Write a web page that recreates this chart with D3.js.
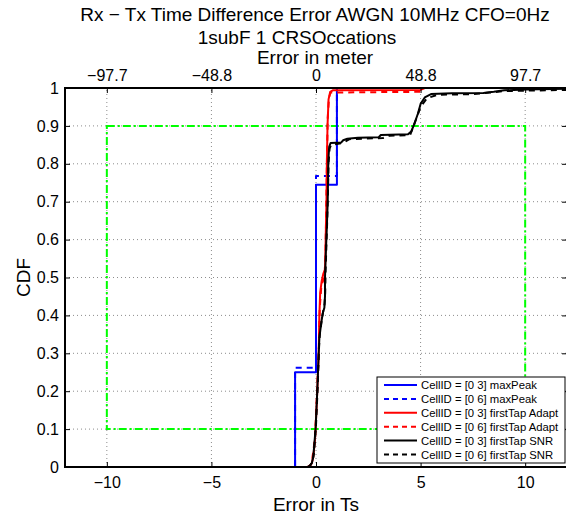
<!DOCTYPE html>
<html>
<head>
<meta charset="utf-8">
<script src="https://cdn.jsdelivr.net/npm/d3@7"></script>
<style>
  html, body { margin: 0; padding: 0; background: #fff; }
  svg { display: block; font-family: "Liberation Sans", Arial, Helvetica, sans-serif; }
</style>
</head>
<body>
<svg id="chart" width="566" height="514"></svg>
<script>
// ---- data -------------------------------------------------------------
const xTicks = [-10, -5, 0, 5, 10];
const xTickLabels = ["\u221210", "\u22125", "0", "5", "10"];
const topTickLabels = ["\u221297.7", "\u221248.8", "0", "48.8", "97.7"];
const yTicks = [0, 0.1, 0.2, 0.3, 0.4, 0.5, 0.6, 0.7, 0.8, 0.9, 1];
const yTickLabels = ["0", "0.1", "0.2", "0.3", "0.4", "0.5", "0.6", "0.7", "0.8", "0.9", "1"];

// step CDFs of the max-peak estimator
const maxPeak03X = [-12, -1, 0, 1, 12];
const maxPeak03Y = [0, 0.25, 0.745, 1, 1];
const maxPeak06X = [-12, -1, 0, 1, 12];
const maxPeak06Y = [0, 0.262, 0.768, 1, 1];

// first-tap adaptive threshold
const adapt03X = [-12, -0.4, -0.3, -0.2, -0.13, -0.05, -0.02, 0.06, 0.13, 0.16, 0.2, 0.27, 0.35, 0.43, 0.45, 0.47, 0.5, 0.52, 0.55, 0.6, 0.68, 0.8, 5.0, 5.2, 12];
const adapt03Y = [0, 0, 0.003, 0.01, 0.027, 0.07, 0.1, 0.2, 0.3, 0.4, 0.46, 0.49, 0.51, 0.52, 0.56, 0.62, 0.70, 0.8, 0.9, 0.97, 0.99, 0.994, 0.995, 1, 1];
const adapt06X = [-12, -0.38, -0.28, -0.2, -0.05, 0.06, 0.14, 0.18, 0.26, 0.4, 0.45, 0.48, 0.52, 0.56, 0.62, 0.7, 5.0, 5.1, 12];
const adapt06Y = [0, 0, 0.003, 0.012, 0.075, 0.21, 0.32, 0.42, 0.48, 0.5, 0.55, 0.65, 0.8, 0.92, 0.975, 0.988, 0.99, 1, 1];

// first-tap SNR threshold
const snr03X = [-12, -0.4, -0.3, -0.2, -0.13, -0.02, 0.06, 0.13, 0.16, 0.25, 0.32, 0.4, 0.43, 0.43, 0.48, 0.51, 0.56, 0.59, 0.63, 0.7, 1.2, 1.3, 1.5, 2.0, 3.0, 3.1, 4.4, 4.55, 4.7, 4.87, 5.0, 5.2, 5.5, 6.5, 8.0, 8.5, 9.0, 10, 12];
const snr03Y = [0, 0, 0.003, 0.01, 0.027, 0.1, 0.2, 0.3, 0.34, 0.38, 0.405, 0.42, 0.45, 0.5, 0.58, 0.62, 0.70, 0.81, 0.845, 0.855, 0.856, 0.862, 0.866, 0.869, 0.87, 0.876, 0.878, 0.885, 0.905, 0.932, 0.958, 0.975, 0.984, 0.986, 0.987, 0.99, 0.994, 0.996, 0.998];
const snr06X = [-12, -0.38, -0.28, -0.18, -0.1, 0.0, 0.08, 0.14, 0.18, 0.27, 0.34, 0.41, 0.44, 0.46, 0.5, 0.53, 0.57, 0.6, 0.65, 0.72, 1.3, 1.6, 3.2, 3.5, 4.5, 4.6, 4.8, 5.0, 5.3, 5.8, 7.5, 8.3, 9.0, 12];
const snr06Y = [0, 0, 0.004, 0.013, 0.035, 0.11, 0.21, 0.31, 0.35, 0.385, 0.41, 0.43, 0.46, 0.52, 0.59, 0.64, 0.72, 0.8, 0.84, 0.85, 0.855, 0.865, 0.868, 0.874, 0.876, 0.89, 0.92, 0.95, 0.973, 0.982, 0.984, 0.988, 0.992, 0.995];

// target box (dash-dot)
const boxX = [-10, 10];
const boxY = [0.1, 0.9];

const legendLabels = [
  "CellID = [0 3] maxPeak",
  "CellID = [0 6] maxPeak",
  "CellID = [0 3] firstTap Adapt",
  "CellID = [0 6] firstTap Adapt",
  "CellID = [0 3] firstTap SNR",
  "CellID = [0 6] firstTap SNR"
];

// ---- layout -----------------------------------------------------------
const svg = d3.select("#chart");
const L = 65, R = 567, T = 88, B = 467;
const x = d3.scaleLinear().domain([-12, 12]).range([L, R]);
const y = d3.scaleLinear().domain([0, 1]).range([B, T]);

// dotted grid
const grid = svg.append("g").attr("stroke", "#8c8c8c").attr("stroke-width", 1).attr("stroke-dasharray", "1,3");
xTicks.forEach(t => grid.append("line").attr("x1", x(t)).attr("x2", x(t)).attr("y1", B).attr("y2", T));
yTicks.filter(t => t > 0 && t < 1).forEach(t => grid.append("line").attr("x1", L).attr("x2", R).attr("y1", y(t)).attr("y2", y(t)));

// green dash-dot box
svg.append("rect")
  .attr("x", x(boxX[0])).attr("y", y(boxY[1]))
  .attr("width", x(boxX[1]) - x(boxX[0])).attr("height", y(boxY[0]) - y(boxY[1]))
  .attr("fill", "none").attr("stroke", "#00ff00").attr("stroke-width", 2)
  .attr("stroke-dasharray", "8,3,2,3");

// series
const series = [
  { xs: maxPeak03X, ys: maxPeak03Y, color: "#0000ff", dash: null, step: true },
  { xs: maxPeak06X, ys: maxPeak06Y, color: "#0000ff", dash: "6,5", step: true },
  { xs: adapt03X, ys: adapt03Y, color: "#ff0000", dash: null, step: false },
  { xs: adapt06X, ys: adapt06Y, color: "#ff0000", dash: "6,5", step: false },
  { xs: snr03X, ys: snr03Y, color: "#000000", dash: null, step: false },
  { xs: snr06X, ys: snr06Y, color: "#000000", dash: "6,5", step: false }
];

const plot = svg.append("g");
series.forEach(s => {
  const pts = s.xs.map((v, i) => [v, s.ys[i]]);
  const line = d3.line().x(d => x(d[0])).y(d => y(d[1]))
    .curve(s.step ? d3.curveStepAfter : d3.curveLinear);
  plot.append("path").attr("d", line(pts))
    .attr("fill", "none").attr("stroke", s.color).attr("stroke-width", 2)
    .attr("stroke-linejoin", "round")
    .attr("stroke-dasharray", s.dash);
});

// axes (ticks pointing inward on all four sides)
const axisBottom = d3.axisBottom(x).tickValues(xTicks).tickFormat((d, i) => xTickLabels[i]).tickSizeInner(-5).tickSizeOuter(0).tickPadding(10);
const axisTop = d3.axisTop(x).tickValues(xTicks).tickFormat((d, i) => topTickLabels[i]).tickSizeInner(-5).tickSizeOuter(0);
const axisLeft = d3.axisLeft(y).tickValues(yTicks).tickFormat((d, i) => yTickLabels[i]).tickSizeInner(-5).tickSizeOuter(0);
const axisRight = d3.axisRight(y).tickValues(yTicks).tickFormat("").tickSizeInner(-5).tickSizeOuter(0);

function styleAxis(g) {
  g.select(".domain").remove();
  g.selectAll(".tick line").attr("stroke", "#000").attr("stroke-width", 1);
  g.selectAll(".tick text").attr("fill", "#000").attr("font-size", 16)
    .attr("font-family", "'Liberation Sans', Arial, Helvetica, sans-serif");
}
svg.append("g").attr("transform", `translate(0,${B})`).call(axisBottom).call(styleAxis);
svg.append("g").attr("transform", `translate(0,${T})`).call(axisTop).call(styleAxis)
  .selectAll(".tick text").attr("y", -7);
svg.append("g").attr("transform", `translate(${L},0)`).call(axisLeft).call(styleAxis)
  .selectAll(".tick text").attr("x", -6);
svg.append("g").attr("transform", `translate(${R},0)`).call(axisRight).call(styleAxis);

// frame
svg.append("rect").attr("x", L).attr("y", T).attr("width", R - L).attr("height", B - T)
  .attr("fill", "none").attr("stroke", "#000").attr("stroke-width", 2);

// titles and axis labels
const txt = (s, xx, yy, size) => svg.append("text").text(s)
  .attr("x", xx).attr("y", yy).attr("font-size", size).attr("fill", "#000")
  .attr("text-anchor", "middle");
txt("Rx \u2212 Tx Time Difference Error AWGN 10MHz CFO=0Hz", 315, 21, 19);
txt("1subF 1 CRSOccations", 297, 44, 19);
txt("Error in meter", 315, 64, 19);
txt("Error in Ts", 316, 511, 19);
svg.append("text").text("CDF").attr("transform", `translate(30,${(T + B) / 2}) rotate(-90)`)
  .attr("text-anchor", "middle").attr("font-size", 19).attr("fill", "#000");

// legend
const lg = svg.append("g").attr("transform", "translate(377,377)");
lg.append("rect").attr("x", 0).attr("y", 0).attr("width", 188).attr("height", 86)
  .attr("fill", "#fff").attr("stroke", "#000").attr("stroke-width", 1);
legendLabels.forEach((lab, i) => {
  const s = series[i];
  const yy = 8 + i * 13.9;
  lg.append("line").attr("x1", 7).attr("x2", 40).attr("y1", yy).attr("y2", yy)
    .attr("stroke", s.color).attr("stroke-width", 2).attr("stroke-dasharray", s.dash ? "5,4" : null);
  lg.append("text").text(lab).attr("x", 44).attr("y", yy + 4).attr("font-size", 11.3).attr("fill", "#000");
});
</script>
</body>
</html>
